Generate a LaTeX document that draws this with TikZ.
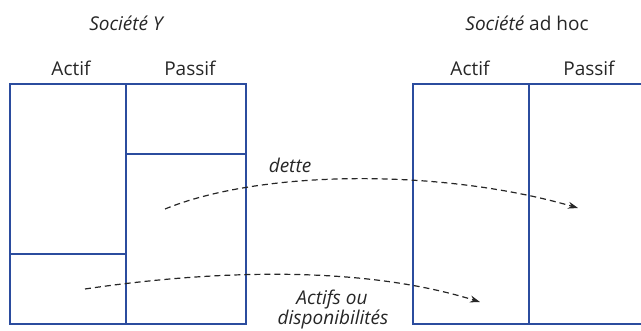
\documentclass[tikz,border=0pt]{standalone}
\usepackage{fontspec}
\setmainfont{Open Sans}
\usetikzlibrary{arrows.meta}
\definecolor{boxblue}{HTML}{2B4C9E}
\definecolor{txt}{HTML}{262626}
\tikzset{
  frame/.style={draw=boxblue, line width=1.25pt},
  lbl/.style={inner sep=0pt, anchor=base, text=txt, font=\fontsize{19}{22}\selectfont},
  flow/.style={draw=txt, line width=1.2pt, dash pattern=on 6pt off 4pt, -{Stealth[length=10pt,width=7pt]}}
}
\begin{document}
\begin{tikzpicture}[x=1pt,y=-1pt]
\useasboundingbox (0,0) rectangle (641,331);
% left balance sheet
\draw[frame] (10,84) rectangle (246,324);
\draw[frame] (126,84) -- (126,324);
\draw[frame] (126,154) -- (246,154);
\draw[frame] (10,254) -- (126,254);
% right balance sheet (cut at the right edge)
\draw[frame] (645,84) -- (413,84) -- (413,324) -- (645,324);
\draw[frame] (529,84) -- (529,324);
% titles
\node[lbl] (ty) at (126,31) {\itshape Société Y};
\node[lbl] (tah) at (527,31) {\textit{Société} ad hoc};
\node[lbl] (a1) at (71,76) {Actif};
\node[lbl] (p1) at (190,76) {Passif};
\node[lbl] (a2) at (470,76) {Actif};
\node[lbl] (p2) at (589,76) {Passif};
% labels
\node[lbl] (ldette) at (290,173) {\itshape dette};
\node[lbl] (lact1) at (332,305) {\itshape Actifs ou};
\node[lbl] (lact2) at (333,325) {\itshape disponibilités};
% flows
\coordinate (d0) at (165,209);
\coordinate (d1) at (578,208);
\coordinate (f0) at (85,289);
\coordinate (f1) at (480,302);
\draw[flow] (d0) .. controls (260,170) and (440,168) .. (d1);
\draw[flow] (f0) .. controls (200,272) and (355,263) .. (f1);
\end{tikzpicture}
\end{document}
